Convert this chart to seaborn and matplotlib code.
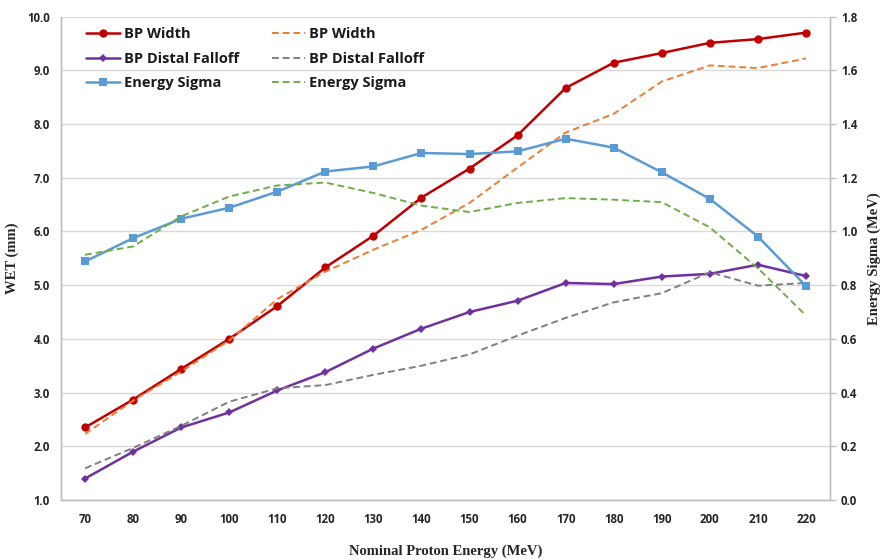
import matplotlib
matplotlib.use("Agg")
import matplotlib.pyplot as plt
import seaborn as sns
import pandas as pd

# Nominal beam energies (MeV)
energy = [70, 80, 90, 100, 110, 120, 130, 140, 150, 160, 170, 180, 190, 200, 210, 220]

# Bragg peak width, WET (mm): measured (solid) and simulated (dashed)
bp_width_meas = [2.35, 2.87, 3.44, 4.00, 4.61, 5.33, 5.92, 6.63, 7.17, 7.79, 8.67, 9.14, 9.32, 9.51, 9.58, 9.70]
bp_width_sim = [2.23, 2.85, 3.39, 3.97, 4.74, 5.25, 5.66, 6.03, 6.53, 7.19, 7.84, 8.19, 8.79, 9.09, 9.04, 9.22]

# Distal falloff, WET (mm)
distal_meas = [1.40, 1.90, 2.35, 2.63, 3.04, 3.38, 3.82, 4.19, 4.50, 4.71, 5.04, 5.02, 5.16, 5.21, 5.38, 5.17]
distal_sim = [1.59, 1.97, 2.38, 2.83, 3.08, 3.14, 3.33, 3.50, 3.71, 4.06, 4.39, 4.68, 4.85, 5.24, 4.99, 5.04]

# Energy spread sigma (MeV), right axis
sigma_meas = [0.888, 0.975, 1.047, 1.088, 1.148, 1.223, 1.242, 1.292, 1.288, 1.298, 1.345, 1.312, 1.220, 1.121, 0.981, 0.797]
sigma_sim = [0.913, 0.944, 1.056, 1.130, 1.171, 1.182, 1.143, 1.096, 1.072, 1.106, 1.124, 1.118, 1.109, 1.015, 0.863, 0.687]

left_ticks = [1.0, 2.0, 3.0, 4.0, 5.0, 6.0, 7.0, 8.0, 9.0, 10.0]
right_ticks = [0.0, 0.2, 0.4, 0.6, 0.8, 1.0, 1.2, 1.4, 1.6, 1.8]

sns.set_theme(style="white")
plt.rcParams["font.family"] = ["Open Sans", "DejaVu Sans"]

df = pd.DataFrame({
    "energy": energy,
    "bpw_m": bp_width_meas, "bpw_s": bp_width_sim,
    "dist_m": distal_meas, "dist_s": distal_sim,
    "sig_m": sigma_meas, "sig_s": sigma_sim,
})

fig = plt.figure(figsize=(8.87, 5.60), dpi=100)
ax = fig.add_axes([0.0688, 0.1071, 0.8669, 0.8634])
ax2 = ax.twinx()

grid_c = "#D9D9D9"
spine_c = "#BFBFBF"

lw_solid = 1.8
lw_dash = 1.4

sns.lineplot(data=df, x="energy", y="bpw_m", ax=ax, color="#C00000", lw=lw_solid,
             marker="o", markersize=6, markeredgewidth=0, label="BP Width")
sns.lineplot(data=df, x="energy", y="dist_m", ax=ax, color="#7030A0", lw=lw_solid,
             marker="D", markersize=4.5, markeredgewidth=0, label="BP Distal Falloff")
sns.lineplot(data=df, x="energy", y="bpw_s", ax=ax, color="#ED7D31", lw=lw_dash,
             linestyle=(0, (3.5, 2)), label="BP Width")
sns.lineplot(data=df, x="energy", y="dist_s", ax=ax, color="#7F7F7F", lw=lw_dash,
             linestyle=(0, (3.5, 2)), label="BP Distal Falloff")

sns.lineplot(data=df, x="energy", y="sig_m", ax=ax2, color="#5B9BD5", lw=lw_solid,
             marker="s", markersize=6, markeredgewidth=0, label="Energy Sigma")
sns.lineplot(data=df, x="energy", y="sig_s", ax=ax2, color="#70AD47", lw=lw_dash,
             linestyle=(0, (3.5, 2)), label="Energy Sigma")

ax.set_xlim(65, 225)
ax.set_ylim(1.0, 10.0)
ax2.set_ylim(0.0, 1.8)
ax.set_xticks(energy)
ax.set_yticks(left_ticks)
ax2.set_yticks(right_ticks)
ax.set_xticklabels([str(e) for e in energy])
ax.set_yticklabels([f"{v:.1f}" for v in left_ticks])
ax2.set_yticklabels([f"{v:.1f}" for v in right_ticks])

ax.grid(axis="y", color=grid_c, lw=1.0)
ax.grid(axis="x", visible=False)
ax2.grid(False)
ax.set_axisbelow(True)

for a in (ax, ax2):
    a.spines["top"].set_visible(False)
    for s in ("left", "right", "bottom"):
        a.spines[s].set_color(spine_c)
        a.spines[s].set_linewidth(1.0)

ax.tick_params(axis="x", length=0, pad=9)
ax.tick_params(axis="y", length=0, pad=8)
ax2.tick_params(axis="y", length=4, width=1, color=spine_c, pad=4, right=True)
for lab in ax.get_xticklabels() + ax.get_yticklabels() + ax2.get_yticklabels():
    lab.set_fontsize(8.3)
    lab.set_fontweight("bold")
    lab.set_color("#262626")

serif = ["Liberation Serif", "DejaVu Serif"]
ax.set_xlabel("Nominal Proton Energy (MeV)", family=serif, fontsize=10.5,
              fontweight="bold", labelpad=14)
ax.set_ylabel("WET (mm)", family=serif, fontsize=10.5, fontweight="bold", labelpad=6)
ax2.set_ylabel("Energy Sigma (MeV)", family=serif, fontsize=10.5, fontweight="bold",
               labelpad=7)

# Legend: solid (measured) in the first column, dashed in the second
h1, l1 = ax.get_legend_handles_labels()
h2, l2 = ax2.get_legend_handles_labels()
ax.get_legend().remove()
ax2.get_legend().remove()
handles = [h1[0], h1[1], h2[0], h1[2], h1[3], h2[1]]
labels = [l1[0], l1[1], l2[0], l1[2], l1[3], l2[1]]
leg = ax2.legend(handles, labels, ncol=2, loc="upper left",
                 bbox_to_anchor=(0.016, 1.005), frameon=False,
                 prop=dict(family=["Open Sans", "DejaVu Sans"], weight="bold", size=10.5),
                 handlelength=2.3, handletextpad=0.3, columnspacing=2.2,
                 labelspacing=0.72)
for t in leg.get_texts():
    t.set_color("#1a1a1a")

fig.savefig("out.png", dpi=100, facecolor="white")
